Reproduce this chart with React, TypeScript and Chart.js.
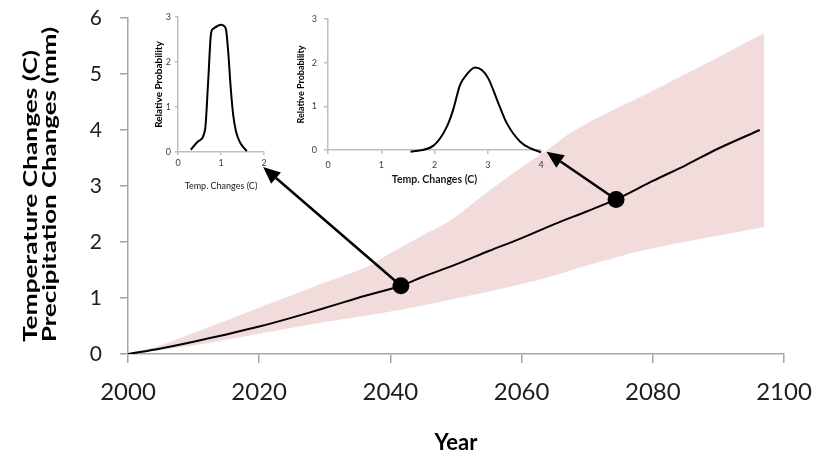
import React, { useEffect, useRef } from "react";
import { Chart, registerables } from "chart.js";

Chart.register(...registerables);

// ---------- data ----------
const years = [2000, 2005, 2010, 2015, 2020, 2025, 2030, 2035, 2041.6, 2045, 2050, 2055, 2060, 2065, 2070, 2074.4, 2080, 2085, 2090, 2096.3];
const meanChange = [0, 0.1, 0.22, 0.35, 0.49, 0.65, 0.82, 1.0, 1.22, 1.38, 1.6, 1.84, 2.07, 2.32, 2.55, 2.76, 3.09, 3.37, 3.67, 4.0];

const upperYears = [2000, 2005, 2010, 2015, 2020, 2025, 2030, 2036.4, 2040, 2044.5, 2050, 2053, 2058, 2064, 2067.5, 2080, 2090, 2097];
const upperBound = [0, 0.16, 0.38, 0.6, 0.83, 1.05, 1.28, 1.56, 1.8, 2.09, 2.45, 2.73, 3.17, 3.65, 3.95, 4.7, 5.3, 5.73];

const lowerYears = [2000, 2010, 2020, 2030, 2042, 2050, 2062.5, 2070, 2079, 2088, 2097];
const lowerBound = [0, 0.15, 0.36, 0.57, 0.8, 0.99, 1.32, 1.58, 1.86, 2.07, 2.27];

const markerYears = [2041.6, 2074.4];
const markerValues = [1.22, 2.76];
const arrowTipYears = [2020.6, 2063.8];
const arrowTipValues = [3.34, 3.61];

const yTitleLines = ["Temperature Changes (C)", "Precipitation Changes (mm)"];
const xTitle = "Year";

const inset1Temp = [0.3, 0.47, 0.63, 0.7, 0.77, 0.82, 0.92, 1.0, 1.07, 1.12, 1.17, 1.22, 1.28, 1.35, 1.45, 1.6];
const inset1Prob = [0.05, 0.24, 0.5, 1.54, 2.65, 2.74, 2.8, 2.83, 2.8, 2.7, 2.2, 1.5, 0.85, 0.45, 0.2, 0.02];

const inset2Temp = [1.55, 1.98, 2.23, 2.35, 2.48, 2.6, 2.76, 2.89, 3.01, 3.2, 3.36, 3.61, 3.8, 4.0];
const inset2Prob = [-0.04, 0.1, 0.53, 0.92, 1.49, 1.72, 1.89, 1.83, 1.64, 1.07, 0.61, 0.19, 0.04, -0.05];

const insetXTitle = "Temp. Changes (C)";
const insetYTitle = "Relative Probability";

// ---------- styles ----------
const FONT = "Lato, 'Liberation Sans', sans-serif";
const AXIS = "#A6A6A6";
const INSET_AXIS = "#BFBFBF";
const BAND = "#F2DCDB";

const toXY = (xs: number[], ys: number[]) => xs.map((x, i) => ({ x, y: ys[i] }));

function insetConfig(
  xs: number[],
  ys: number[],
  xMax: number,
  o: { padTop: number; padRight: number; yWidth: number; xHeight: number; yTitlePad: number; xTitlePad: number; xTitleFont: any; yTitleSize: number; yTickPad: number; yTickLen: number; xTickPad: number; xTickLen: number }
): any {
  return {
    type: "line",
    data: {
      datasets: [
        {
          data: toXY(xs, ys),
          borderColor: "#000",
          borderWidth: 2,
          pointRadius: 0,
          fill: false,
          cubicInterpolationMode: "monotone",
          clip: false,
        },
      ],
    },
    options: {
      responsive: false,
      animation: false,
      layout: { padding: { left: 0, top: o.padTop, right: o.padRight, bottom: 0 } },
      plugins: { legend: { display: false }, tooltip: { enabled: false } },
      scales: {
        x: {
          type: "linear",
          min: 0,
          max: xMax,
          ticks: { stepSize: 1, color: "#404040", font: { family: FONT, size: 9 }, padding: o.xTickPad, maxRotation: 0, callback: (v: any) => String(v) },
          grid: { drawOnChartArea: false, tickLength: o.xTickLen, color: INSET_AXIS, lineWidth: 1.5 },
          border: { color: INSET_AXIS, width: 1.5 },
          title: { display: true, text: insetXTitle, color: "#1a1a1a", font: o.xTitleFont, padding: { top: 0, bottom: o.xTitlePad } },
          afterFit: (s: any) => {
            s.height = o.xHeight;
          },
        },
        y: {
          min: 0,
          max: 3,
          ticks: { stepSize: 1, color: "#404040", font: { family: FONT, size: 9 }, padding: o.yTickPad, callback: (v: any) => String(v) },
          grid: { drawOnChartArea: false, tickLength: o.yTickLen, color: INSET_AXIS, lineWidth: 1.5 },
          border: { color: INSET_AXIS, width: 1.5 },
          title: { display: true, text: insetYTitle, color: "#000", font: { family: FONT, size: o.yTitleSize, weight: "bold" }, padding: { top: o.yTitlePad, bottom: 0 } },
          afterFit: (s: any) => {
            s.width = o.yWidth;
          },
        },
      },
    },
  };
}

export default function App() {
  const mainRef = useRef<HTMLCanvasElement>(null);
  const overlayRef = useRef<HTMLCanvasElement>(null);
  const inset1Ref = useRef<HTMLCanvasElement>(null);
  const inset2Ref = useRef<HTMLCanvasElement>(null);

  useEffect(() => {
    document.body.style.margin = "0";

    const yTitlePlugin = {
      id: "yTitle",
      afterDraw(chart: any) {
        const ctx = chart.ctx;
        const centers = [31, 50];
        const lengths = [292, 315];
        const startY = 342;
        ctx.save();
        ctx.font = `bold 19px ${FONT}`;
        ctx.fillStyle = "#000";
        ctx.textBaseline = "middle";
        ctx.textAlign = "left";
        yTitleLines.forEach((t, i) => {
          ctx.save();
          ctx.translate(centers[i], startY);
          ctx.rotate(-Math.PI / 2);
          const w = ctx.measureText(t).width;
          ctx.scale(lengths[i] / w, 1);
          ctx.fillText(t, 0, 0);
          ctx.restore();
        });
        ctx.restore();
      },
    };

    const arrowPlugin = {
      id: "arrows",
      afterDraw(chart: any) {
        const ov = overlayRef.current;
        if (!ov) return;
        const ctx = ov.getContext("2d")!;
        ctx.clearRect(0, 0, ov.width, ov.height);
        const xs = chart.scales.x;
        const ys = chart.scales.y;
        ctx.save();
        ctx.strokeStyle = "#000";
        ctx.fillStyle = "#000";
        ctx.lineWidth = 2.5;
        markerYears.forEach((yr, i) => {
          const x0 = xs.getPixelForValue(yr);
          const y0 = ys.getPixelForValue(markerValues[i]);
          const x1 = xs.getPixelForValue(arrowTipYears[i]);
          const y1 = ys.getPixelForValue(arrowTipValues[i]);
          const ang = Math.atan2(y1 - y0, x1 - x0);
          const headLen = 17;
          const headHalf = 7.5;
          const bx = x1 - headLen * Math.cos(ang);
          const by = y1 - headLen * Math.sin(ang);
          ctx.beginPath();
          ctx.moveTo(x0, y0);
          ctx.lineTo(bx, by);
          ctx.stroke();
          ctx.beginPath();
          ctx.moveTo(x1, y1);
          ctx.lineTo(bx + headHalf * Math.sin(ang), by - headHalf * Math.cos(ang));
          ctx.lineTo(bx - headHalf * Math.sin(ang), by + headHalf * Math.cos(ang));
          ctx.closePath();
          ctx.fill();
        });
        ctx.restore();
      },
    };

    const main = new Chart(mainRef.current!, {
      type: "line",
      data: {
        datasets: [
          { data: toXY(upperYears, upperBound), borderWidth: 0, pointRadius: 0, backgroundColor: BAND, fill: "+1", cubicInterpolationMode: "monotone", order: 3 } as any,
          { data: toXY(lowerYears, lowerBound), borderWidth: 0, pointRadius: 0, fill: false, cubicInterpolationMode: "monotone", order: 2 } as any,
          { data: toXY(years, meanChange), borderColor: "#000", borderWidth: 2, pointRadius: 0, fill: false, tension: 0.3, order: 1 } as any,
          { type: "scatter", data: toXY(markerYears, markerValues), pointRadius: 8.5, pointBackgroundColor: "#000", pointBorderWidth: 0, showLine: false, order: 0 } as any,
        ],
      },
      options: {
        responsive: false,
        animation: false,
        layout: { padding: { left: 0, top: 18, right: 43, bottom: 0 } },
        plugins: { legend: { display: false }, tooltip: { enabled: false }, filler: { drawTime: "beforeDatasetsDraw" } },
        scales: {
          x: {
            type: "linear",
            min: 2000,
            max: 2100,
            ticks: { stepSize: 20, color: "#1e1e1e", font: { family: FONT, size: 24 }, padding: 15, maxRotation: 0, callback: (v: any) => String(v) },
            grid: { drawOnChartArea: false, tickLength: 9, color: AXIS, lineWidth: 1.5 },
            border: { color: AXIS, width: 1.5 },
            title: { display: true, text: xTitle, color: "#000", font: { family: FONT, size: 22, weight: "bold" }, padding: { top: 0, bottom: 6 } },
            afterFit: (s: any) => {
              s.height = 108;
              s.paddingLeft = 0;
              s.paddingRight = 0;
            },
          },
          y: {
            min: 0,
            max: 6,
            ticks: { stepSize: 1, color: "#1e1e1e", font: { family: FONT, size: 21 }, padding: 18, callback: (v: any) => String(v) },
            grid: { drawOnChartArea: false, tickLength: 8, color: AXIS, lineWidth: 1.5 },
            border: { color: AXIS, width: 1.5 },
            afterFit: (s: any) => {
              s.width = 128;
              s.paddingTop = 0;
              s.paddingBottom = 0;
            },
          },
        },
      } as any,
      plugins: [yTitlePlugin, arrowPlugin],
    });

    const in1 = new Chart(
      inset1Ref.current!,
      insetConfig(inset1Temp, inset1Prob, 2, {
        padTop: 17,
        padRight: 16,
        yWidth: 38,
        xHeight: 48,
        yTitlePad: 13,
        xTitlePad: 9,
        xTitleFont: { family: FONT, size: 9 },
        yTitleSize: 10,
        yTickPad: 4,
        yTickLen: 3,
        xTickPad: 3,
        xTickLen: 3,
      })
    );

    const in2 = new Chart(
      inset2Ref.current!,
      insetConfig(inset2Temp, inset2Prob, 4, {
        padTop: 19,
        padRight: 19,
        yWidth: 38,
        xHeight: 50,
        yTitlePad: 6,
        xTitlePad: 14,
        xTitleFont: { family: FONT, size: 10.5, weight: "bold" },
        yTitleSize: 9,
        yTickPad: 7,
        yTickLen: 4,
        xTickPad: 6,
        xTickLen: 4,
      })
    );

    return () => {
      main.destroy();
      in1.destroy();
      in2.destroy();
    };
  }, []);

  const abs = (left: number, top: number, w: number, h: number, z: number): React.CSSProperties => ({
    position: "absolute",
    left,
    top,
    width: w,
    height: h,
    zIndex: z,
  });

  return (
    <div style={{ position: "relative", width: 827, height: 462, background: "#fff" }}>
      <canvas ref={mainRef} width={827} height={462} style={abs(0, 0, 827, 462, 1)} />
      <canvas ref={inset1Ref} width={140} height={200} style={abs(140, 0, 140, 200, 2)} />
      <canvas ref={inset2Ref} width={270} height={200} style={abs(290, 0, 270, 200, 2)} />
      <canvas ref={overlayRef} width={827} height={462} style={{ ...abs(0, 0, 827, 462, 3), pointerEvents: "none" }} />
    </div>
  );
}
